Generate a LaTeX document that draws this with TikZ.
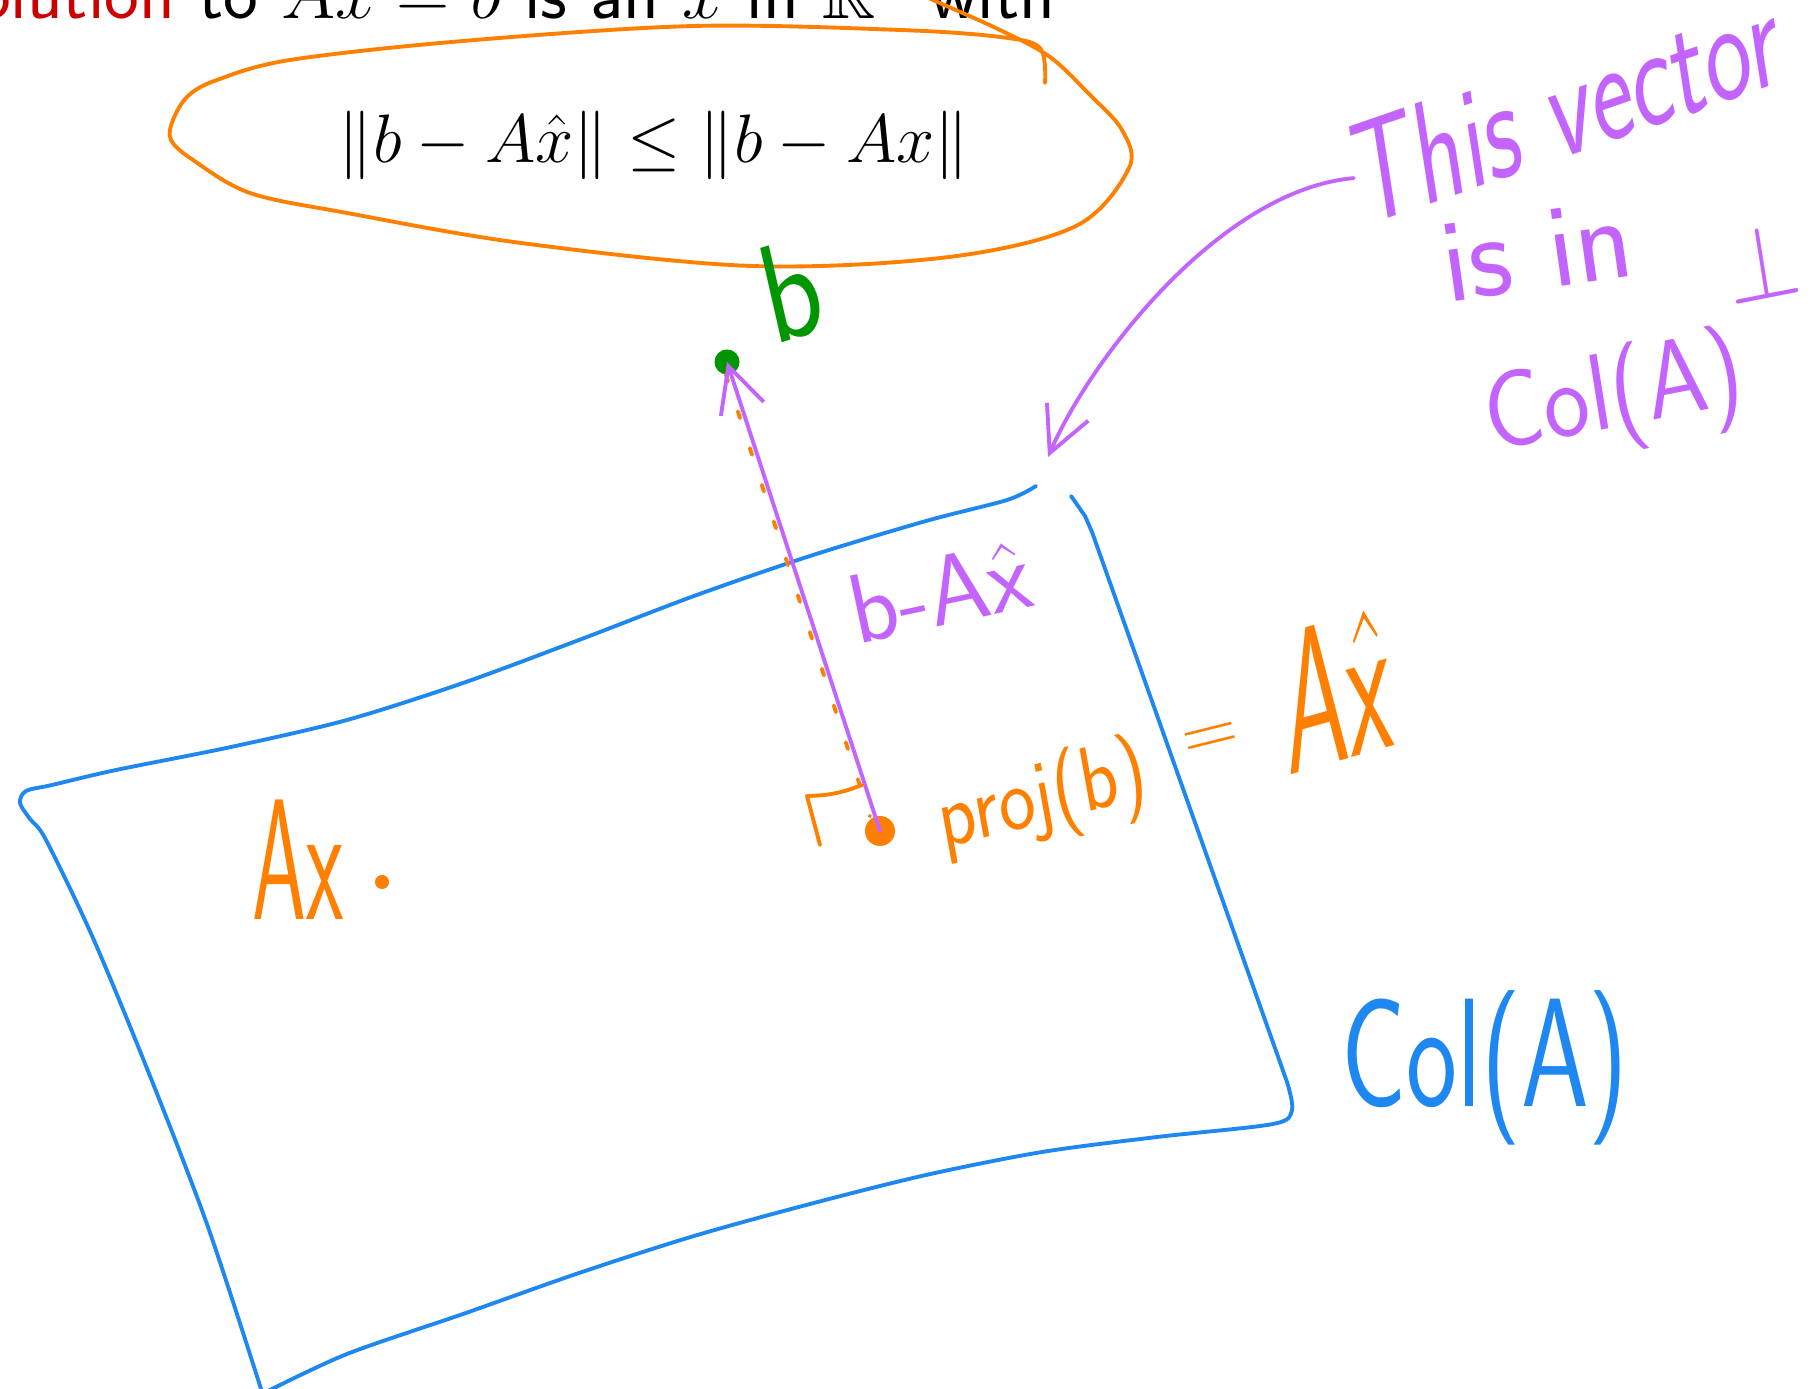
\RequirePackage{fix-cm}
\documentclass[tikz,border=0pt]{standalone}
\usepackage{amsmath}
\usepackage{amssymb}
\usepackage{xcolor}
\usepackage{tikz}
\usetikzlibrary{arrows.meta, positioning, calc}
\definecolor{planecol}{RGB}{30,136,240}
\definecolor{projcol}{RGB}{255,128,0}
\definecolor{perpcol}{RGB}{196,100,255}
\definecolor{bcol}{RGB}{0,150,0}
\definecolor{slidecol}{RGB}{204,0,0}

\begin{document}
\begin{tikzpicture}[
        x=0.01cm, y=-0.01cm,
        pen/.style={line width=1.1pt, line cap=round, line join=round},
        hand/.style={font=\sffamily\fontsize{#1}{#1}\selectfont, inner sep=0pt},
        dot/.style={circle, fill, inner sep=0pt, minimum size=#1},
        arrow/.style={-{Straight Barb[length=4.5mm, width=4.5mm]}, pen}
    ]
    \useasboundingbox (0,0) rectangle (1815,1389);
    \clip (0,0) rectangle (1815,1389);

    % Slide text
    \node[anchor=base east, inner sep=0pt, font=\sffamily\fontsize{21}{25}\selectfont] (slide_line) at (1056,19) {\textcolor{slidecol}{solution} to $Ax=b$ is an $\hat{x}$ in $\mathbb{R}^n$ with};
    \node[font=\fontsize{19.5}{24}\selectfont] (ineq) at (654,145) {$\|b-A\hat{x}\|\leq\|b-Ax\|$};

    % Loop round the inequality
    \draw[pen, projcol] plot[smooth, tension=0.55] coordinates {(1045,83) (1040,48) (1000,37) (900,30) (694,26) (463,41) (290,60) (217,80) (188,96) (173,120) (171,140) (193,160) (250,193) (347,213) (521,243) (752,266) (949,257) (1076,226) (1129,168) (1122,130) (1090,95) (1050,57) (1000,30) (933,0) (915,-8)};

    % Col(A)
    \draw[pen, planecol] plot[smooth, tension=0.5] coordinates {(1036,486) (1007,500) (926,521) (810,556) (694,596) (579,640) (463,683) (347,720) (231,747) (116,770) (52,785) (26,791) (20,803) (30,819) (46,840) (93,938) (150,1076) (208,1227) (262,1392)};
    \draw[pen, planecol] plot[smooth, tension=0.5] coordinates {(266,1392) (347,1354) (463,1314) (579,1273) (694,1236) (810,1204) (926,1175) (1042,1152) (1157,1137) (1273,1124) (1292,1110) (1287,1082)}
        -- (1092,532) -- plot[smooth] coordinates {(1085,516) (1071,496)};
    \node[hand=44pt, planecol, xscale=0.7] (col_label) at (1485,1068) {Col(A)};

    % Points
    \node[dot=0.25cm, bcol] (b_dot) at (727,362) {};
    \node[hand=40pt, bcol, xscale=0.85, rotate=15] (b_label) at (791,290) {b};
    \node[dot=0.3cm, projcol] (proj_dot) at (880,831) {};
    \node[dot=0.14cm, projcol] (ax_dot) at (382,882) {};
    \node[hand=49pt, projcol, xscale=0.5] (ax_label) at (298,860) {Ax};

    % Projection
    \draw[pen, projcol, dash pattern=on 2pt off 9pt, transform canvas={xshift=-1.5pt}] (b_dot) -- (proj_dot);
    \draw[arrow, perpcol] (proj_dot.center) -- (b_dot.center);
    \draw[pen, projcol] (862,785) to[bend left=10] (807,796) -- (820,845);
    \node[hand=28pt, perpcol, rotate=12] (diff_label) at (940,592) {b-A$\hat{\mathsf{x}}$};
    \node[hand=26pt, projcol, xscale=0.85, rotate=12] (proj_label) at (1043,800) {proj(b)};
    \node[hand=22pt, projcol, rotate=14] (eq_sign) at (1212,741) {=};
    \node[hand=58pt, projcol, xscale=0.5, rotate=8] (axhat_label) at (1337,690) {A$\hat{\mathsf{x}}$};

    % Note
    \node[hand=42pt, perpcol, xscale=0.67, rotate=13] (this_vector) at (1566,105) {This vector};
    \node[hand=34pt, perpcol, rotate=8] (is_in) at (1537,251) {is in};
    \node[hand=31pt, perpcol, xscale=0.9, rotate=10, anchor=base west] (col_perp) at (1490,452) {Col(A)\raisebox{0.9em}{\fontsize{30}{30}\selectfont$\perp$}};
    \coordinate (plane_corner) at (1048,457);
    \draw[arrow, perpcol] (this_vector.west) .. controls (1220,190) and (1090,360) .. (plane_corner);

\end{tikzpicture}
\end{document}
